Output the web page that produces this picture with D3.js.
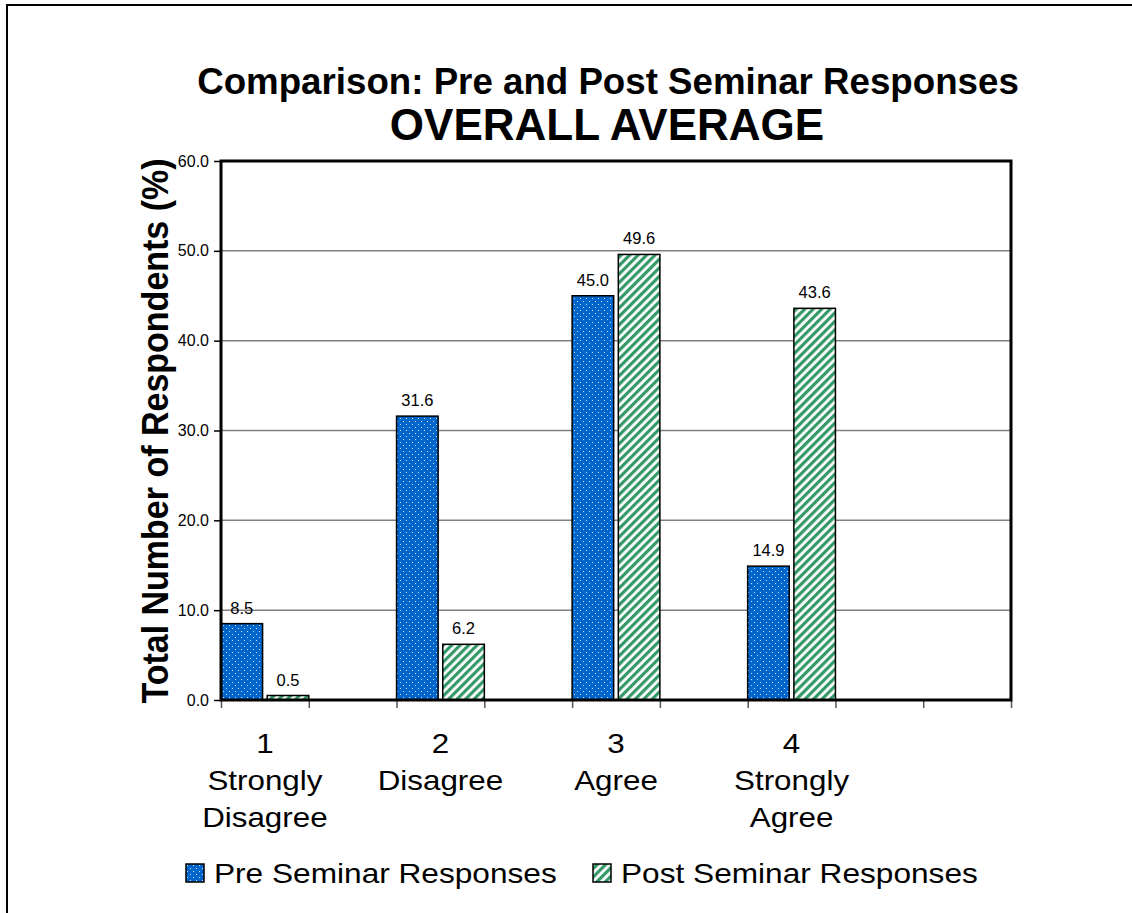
<!DOCTYPE html>
<html><head><meta charset="utf-8">
<script src="https://cdn.jsdelivr.net/npm/d3@7"></script>
<style>
html,body{margin:0;padding:0;background:#fff;}
svg{display:block;font-family:"Liberation Sans",Arial,sans-serif;}
</style></head>
<body>
<svg id="chart" width="1132" height="913"></svg>
<script>
// ---- data ----
const slotKeys = ["c1","g1","c2","g2","c3","g3","c4","g4","g5"];
const categoryKeys = ["c1","c2","c3","c4"];
const categoryLines = [["1","Strongly","Disagree"],["2","Disagree"],["3","Agree"],["4","Strongly","Agree"]];
const preValues = [8.5, 31.6, 45.0, 14.9];
const postValues = [0.5, 6.2, 49.6, 43.6];
const seriesNames = ["Pre Seminar Responses","Post Seminar Responses"];
const yTicks = [0,10,20,30,40,50,60];
const titleLines = ["Comparison: Pre and Post Seminar Responses","OVERALL AVERAGE"];
const yTitle = "Total Number of Respondents (%)";

// ---- layout ----
const svg = d3.select("#chart");
const L = 221, R = 1011, T = 161, B = 700;
const blue = "#0066CC", green = "#339966";

const defs = svg.append("defs");
const pd = defs.append("pattern").attr("id","dots").attr("patternUnits","userSpaceOnUse")
  .attr("width",6).attr("height",6);
pd.append("rect").attr("width",6).attr("height",6).attr("fill",blue);
pd.append("rect").attr("x",1).attr("y",1).attr("width",1).attr("height",1).attr("fill","#cfe0ff");
pd.append("rect").attr("x",4).attr("y",4).attr("width",1).attr("height",1).attr("fill","#cfe0ff");
const ps = defs.append("pattern").attr("id","stripes").attr("patternUnits","userSpaceOnUse")
  .attr("width",6).attr("height",6).attr("patternTransform","rotate(45)");
ps.append("rect").attr("width",6).attr("height",6).attr("fill","#fff");
ps.append("rect").attr("width",3.2).attr("height",6).attr("fill",green);

// outer border
svg.append("rect").attr("x",7).attr("y",5).attr("width",1200).attr("height",1000)
  .attr("fill","none").attr("stroke","#000").attr("stroke-width",2);

const x = d3.scaleBand().domain(slotKeys).range([L,R]).padding(0);
const xb = d3.scaleLinear().domain([0,slotKeys.length]).range([L,R]);
const sub = d3.scaleBand().domain(seriesNames).range([0,x.bandwidth()]).paddingInner(0.1);
const y = d3.scaleLinear().domain([0,60]).range([B,T]);

// gridlines
svg.append("g").selectAll("line").data(yTicks.filter(d=>d>0&&d<60)).join("line")
  .attr("x1",L).attr("x2",R).attr("y1",d=>y(d)).attr("y2",d=>y(d))
  .attr("stroke","#808080").attr("stroke-width",1.5);

// y axis
const ya = svg.append("g").attr("transform",`translate(${L},0)`)
  .call(d3.axisLeft(y).tickValues(yTicks).tickFormat(d3.format(".1f")).tickSize(7).tickPadding(5));
ya.select(".domain").remove();
ya.selectAll("line").attr("stroke","#000").attr("stroke-width",1.5);
ya.selectAll("text").attr("font-size",16).attr("fill","#000").attr("font-family","Liberation Sans, Arial");

// x axis ticks
const xa = svg.append("g").attr("transform",`translate(0,${B})`)
  .call(d3.axisBottom(xb).tickValues(d3.range(slotKeys.length+1)).tickFormat("").tickSize(8));
xa.select(".domain").remove();
xa.selectAll("line").attr("stroke","#555").attr("stroke-width",1.5);

// bars
const series = [
  {name:seriesNames[0], values:preValues, fill:"url(#dots)"},
  {name:seriesNames[1], values:postValues, fill:"url(#stripes)"}
];
series.forEach(s=>{
  const g = svg.append("g");
  g.selectAll("rect").data(s.values).join("rect")
    .attr("x",(d,i)=>x(categoryKeys[i])+sub(s.name))
    .attr("y",d=>y(d)).attr("width",sub.bandwidth()).attr("height",d=>B-y(d))
    .attr("fill",s.fill).attr("stroke","#000").attr("stroke-width",1.5);
  g.selectAll("text").data(s.values).join("text")
    .attr("x",(d,i)=>x(categoryKeys[i])+sub(s.name)+sub.bandwidth()/2)
    .attr("y",d=>y(d)-10).attr("text-anchor","middle").attr("font-size",16.5)
    .text(d=>d3.format(".1f")(d));
});

// plot border
svg.append("rect").attr("x",L).attr("y",T).attr("width",R-L).attr("height",B-T)
  .attr("fill","none").attr("stroke","#000").attr("stroke-width",3);

// category labels
categoryLines.forEach((lines,i)=>{
  const t = svg.append("text").attr("text-anchor","middle").attr("font-size",28)
    .attr("transform",`translate(${x(categoryKeys[i])+x.bandwidth()/2},0) scale(1.12,1)`);
  lines.forEach((ln,j)=>t.append("tspan").attr("x",0).attr("y",753+j*37).text(ln));
});

// titles
svg.append("text").attr("x",608).attr("y",94).attr("text-anchor","middle")
  .attr("font-size",36.7).attr("font-weight","bold").text(titleLines[0]);
svg.append("text").attr("x",607).attr("y",140).attr("text-anchor","middle")
  .attr("font-size",44).attr("font-weight","bold").text(titleLines[1]);

// y title
svg.append("text").attr("transform","translate(168,431) rotate(-90) scale(1,1.1)").attr("text-anchor","middle")
  .attr("font-size",34).attr("font-weight","bold").text(yTitle);

// legend
const leg = [{x:186, tx:214},{x:593, tx:621}];
series.forEach((s,i)=>{
  svg.append("rect").attr("x",leg[i].x).attr("y",864).attr("width",18).attr("height",18)
    .attr("fill",s.fill).attr("stroke","#000").attr("stroke-width",1.5);
  svg.append("text").attr("transform",`translate(${leg[i].tx},883) scale(1.13,1)`).attr("font-size",28)
    .text(s.name);
});
</script>
</body></html>
